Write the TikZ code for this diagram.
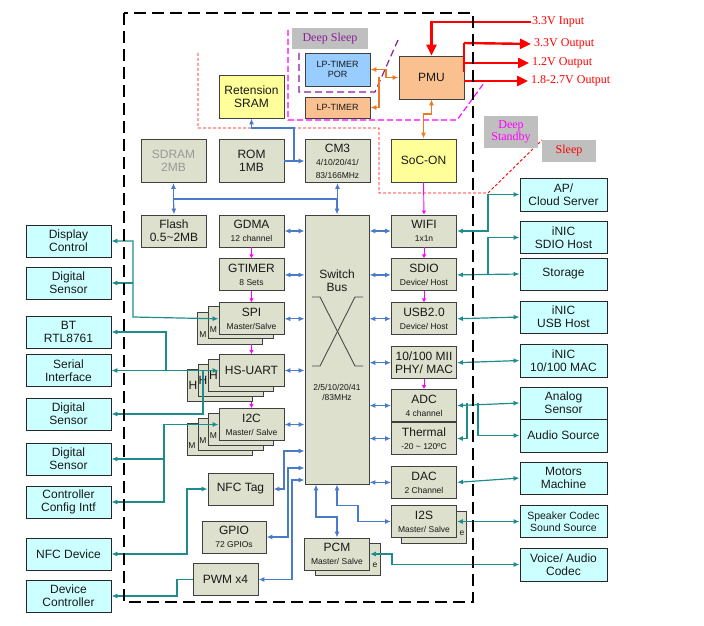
\documentclass[tikz,border=0pt]{standalone}
\usepackage{fontspec}
\setmainfont{Liberation Sans}
\newfontfamily\tnr{Liberation Serif}
\usetikzlibrary{positioning,arrows.meta,calc}
\definecolor{socG}{HTML}{DCE0CC}
\definecolor{socC}{HTML}{CCFFFF}
\definecolor{socY}{HTML}{FFFF99}
\definecolor{socO}{HTML}{FAC08F}
\definecolor{socB}{HTML}{99CCFF}
\definecolor{lnT}{HTML}{1E8C8C}
\definecolor{lnB}{HTML}{4A7BC8}
\definecolor{lnM}{HTML}{FF00FF}
\definecolor{lnO}{HTML}{F07820}
\definecolor{lnP}{HTML}{8A1F9A}
\newcommand{\subtx}{\fontsize{8.5}{10}\selectfont}
\newcommand{\lptx}{\fontsize{9}{10.5}\selectfont}

\begin{document}
\begin{tikzpicture}[x=1pt,y=-1pt,>={Latex[length=6pt,width=5pt]},
  every node/.style={font=\fontsize{12}{13}\selectfont, align=center, text=black!90},
  blk/.style={rectangle, draw=black!75, line width=0.9pt, fill=socG,
              minimum width=65pt, minimum height=32pt, inner sep=1pt},
  ext/.style={rectangle, draw=black!85, line width=0.9pt, fill=socC,
              minimum width=87pt, minimum height=32pt, inner sep=1pt},
  pwr/.style={blk, minimum height=43pt},
  peek/.style={inner sep=0pt},
  lbl/.style={fill=black!25, inner sep=0pt, font=\tnr\fontsize{12}{12.5}\selectfont},
  vlbl/.style={anchor=west, inner sep=1pt, text=red, font=\tnr\fontsize{12}{14}\selectfont},
  bl/.style={lnB, line width=1.2pt},
  tl/.style={lnT, line width=1.2pt},
  mg/.style={lnM, line width=0.9pt, -{Latex[length=4pt,width=4.5pt]}},
  og/.style={lnO, line width=1.2pt},
  rd/.style={red, line width=2.4pt},
  rdarr/.style={rd, -{Triangle[length=11pt,width=10pt]}}
]
\useasboundingbox (0,0) rectangle (704,626);

% power domains
\draw[red, line width=0.9pt, dash pattern=on 3pt off 2pt]
  (198,53) -- (198,128) -- (379,128) -- (379,193) -- (488,193) -- (542,140);
\draw[lnM, line width=1.1pt, dash pattern=on 6pt off 3pt]
  (288,30) -- (288,120) -- (457,120) -- (484,83);
\draw[lnP, line width=1.2pt, dash pattern=on 7pt off 4pt]
  (299,53) -- (299,92) -- (375,92) -- (398,40);
\node[lbl, text=lnP, minimum width=76pt, minimum height=21pt] (dslp) at (330,38.5) {Deep Sleep};
\node[lbl, text=lnM, minimum width=54pt, minimum height=32pt] (dstb) at (511,132) {Deep\\Standby};
\node[lbl, text=red, minimum width=54pt, minimum height=22pt] (slp) at (569,151) {Sleep};

% always-on part
\node[pwr, fill=socY] (sram) at (251.5,96.5) {Retension\\SRAM};
\node[blk, fill=socB, minimum height=33pt, font=\lptx] (por) at (337.5,69.5) {LP-TIMER\\POR};
\node[blk, fill=socO, minimum height=21pt, font=\lptx] (lpt) at (337.5,107.5) {LP-TIMER};
\node[pwr, fill=socO] (pmu) at (431.5,77.5) {PMU};
\node[pwr, fill=socY] (soc) at (423.5,160.5) {SoC-ON};
\node[pwr, text=black!40] (sdram) at (173.5,161) {SDRAM\\2MB};
\node[pwr] (rom) at (251.5,161) {ROM\\1MB};
\node[pwr] (cm3) at (337.5,161) {CM3\\{\subtx 4/10/20/41/}\\{\subtx 83/166MHz}};

% supply
\node[vlbl] (vin) at (531,22) {3.3V Input};
\node[vlbl] (vo1) at (533,44) {3.3V Output};
\node[vlbl] (vo2) at (531,63) {1.2V Output};
\node[vlbl] (vo3) at (530,81) {1.8-2.7V Output};
\draw[rdarr] (vin.west) -| (pmu.north);
\draw[rd] (464,43) -- (464,72);
\draw[rdarr, shorten >=2pt] (464,43) -- (vo1.west);
\draw[rdarr, shorten >=2pt] (464,63) -- (vo2.west);
\draw[rdarr, shorten >=2pt] (pmu.east |- vo3.west) -- (vo3.west);
\draw[og, <->] (por.east) -- (386,69.5) -- (386,77.5) -- (pmu.west);
\draw[og, ->] (379,77.5) -- (379,107.5) -- (lpt.east);
\draw[og, <->] (pmu.south) -- (431.5,114) -- (423.5,114) -- (soc.north);

% left column
\node[blk] (flash) at (174,231) {Flash\\0.5\textasciitilde 2MB};
\node[blk] (gdma) at (251.5,231) {GDMA\\{\subtx 12 channel}};
\node[blk, below=11pt of gdma] (gtim) {GTIMER\\{\subtx 8 Sets}};
\node[blk] (spib2) at (229.5,328) {};
\node[peek, font=\subtx] at (203,335) {M};
\node[blk] (spib1) at (240.5,322.5) {};
\node[peek, font=\subtx] at (213.5,329.5) {M};
\node[blk, below=11pt of gtim] (spi) {SPI\\{\subtx Master/Salve}};
\node[blk] (uartb3) at (220,385.5) {};
\node[peek] at (193,385.5) {H};
\node[blk] (uartb2) at (230.5,380.5) {};
\node[peek] at (203,380.5) {H};
\node[blk] (uartb1) at (241,375.5) {};
\node[peek] at (213.5,375.5) {H};
\node[blk] (uart) at (251.5,370.5) {HS-UART};
\node[blk] (i2cb3) at (220,439.5) {};
\node[peek, font=\subtx] at (192,446) {M};
\node[blk] (i2cb2) at (230.5,434.5) {};
\node[peek, font=\subtx] at (203,441) {M};
\node[blk] (i2cb1) at (241,429.5) {};
\node[peek, font=\subtx] at (213.5,436) {M};
\node[blk] (i2c) at (251.5,424.5) {I2C\\{\subtx Master/ Salve}};
\node[blk] (nfct) at (240.5,489) {NFC Tag};
\node[blk, minimum width=64pt] (gpio) at (234,537) {GPIO\\{\subtx 72 GPIOs}};
\node[blk] (pwm) at (225.5,579.5) {PWM x4};

% switch bus
\node[blk, minimum width=64pt, minimum height=269pt] (sw) at (337,349.5) {};
\node (swname) at (337,281) {Switch\\Bus};
\node[font=\subtx] (swclk) at (337,392) {2/5/10/20/41\\/83MHz};
\draw[black!70, line width=0.9pt] (312,297) -- (320,297) -- (355,366) -- (363,366);
\draw[black!70, line width=0.9pt] (363,297) -- (355,297) -- (320,366) -- (312,366);

% right column
\node[blk] (wifi) at (424,231) {WIFI\\{\subtx 1x1n}};
\node[blk, below=11pt of wifi] (sdio) {SDIO\\{\subtx Device/ Host}};
\node[blk, below=11pt of sdio] (usb) {USB2.0\\{\subtx Device/ Host}};
\node[blk, below=11pt of usb] (mii) {10/100 MII\\PHY/ MAC};
\node[blk, below=10pt of mii] (adc) {ADC\\{\subtx 4 channel}};
\node[blk, below=0pt of adc] (therm) {Thermal\\{\subtx -20 \textasciitilde{} 120ºC}};
\node[blk, below=11pt of therm] (dac) {DAC\\{\subtx 2 Channel}};
\node[blk] (i2sb) at (434,527) {};
\node[peek, font=\subtx] at (462,533) {e};
\node[blk] (i2s) at (424,521.5) {I2S\\{\subtx Master/ Salve}};
\node[blk] (pcmb) at (348,559) {};
\node[peek, font=\subtx] at (375,565) {e};
\node[blk] (pcm) at (337,554) {PCM\\{\subtx Master/ Salve}};

% external devices
\node[ext, minimum width=85pt] (disp) at (68.5,241) {Display\\Control};
\node[ext, minimum width=85pt] (dsen1) at (68.5,283) {Digital\\Sensor};
\node[ext, minimum width=85pt] (bt) at (68.5,332) {BT\\RTL8761};
\node[ext, minimum width=85pt] (ser) at (68.5,370.5) {Serial\\Interface};
\node[ext, minimum width=85pt] (dsen2) at (68.5,414) {Digital\\Sensor};
\node[ext, minimum width=85pt] (dsen3) at (68.5,459) {Digital\\Sensor};
\node[ext, minimum width=85pt] (cfg) at (68.5,502) {Controller\\Config Intf};
\node[ext, minimum width=85pt] (nfcd) at (68.5,554) {NFC Device};
\node[ext, minimum width=85pt] (devc) at (68.5,596) {Device\\Controller};
\node[ext, minimum height=33pt] (ap) at (563.5,194.5) {AP/\\Cloud Server};
\node[ext] (sdioh) at (563.5,237.5) {iNIC\\SDIO Host};
\node[ext] (stor) at (563.5,274) {Storage};
\node[ext] (usbh) at (563.5,317) {iNIC\\USB Host};
\node[ext, minimum height=33pt] (mac) at (563.5,360.5) {iNIC\\10/100 MAC};
\node[ext] (asen) at (563.5,403) {Analog\\Sensor};
\node[ext, minimum height=33pt] (asrc) at (563.5,435.5) {Audio Source};
\node[ext] (mot) at (563.5,478) {Motors\\Machine};
\node[ext, font=\fontsize{10.5}{12}\selectfont] (spk) at (563.5,521.5) {Speaker Codec\\Sound Source};
\node[ext, minimum height=33pt] (voice) at (563.5,564.5) {Voice/ Audio\\Codec};

% memory bus
\coordinate (busl) at (173.5,199);
\coordinate (busr) at (337,199);
\draw[bl] (busl) -- (busr);
\draw[bl, ->] (busl) -- (sdram.south);
\draw[bl, ->] (busl) -- (flash.north);
\draw[bl, ->] (busr) -- (cm3.south |- busr) -- (cm3.south);
\draw[bl, ->] (busr) -- (sw.north);
\draw[bl, ->] (rom.east) -- (cm3.west);
\draw[bl, ->] (294,161) -- (294,128) -| (sram.south);

% switch bus links
\foreach \n in {gdma,gtim,spi,uart,i2c}
  \draw[bl, <->] (\n.east) -- (\n.east -| sw.west);
\foreach \n in {wifi,sdio,usb,mii,adc,therm,dac}
  \draw[bl, <->] (\n.west -| sw.east) -- (\n.west);
\coordinate (nfcj) at (284,451);
\coordinate (gpioj) at (288,468);
\coordinate (pwmj) at (292,480);
\draw[bl, <->] (nfct.east) -| (nfcj) -- (nfcj -| sw.west);
\draw[bl, <->] (gpio.east) -| (gpioj) -- (gpioj -| sw.west);
\draw[bl, <->] (pwm.east) -| (pwmj) -- (pwmj -| sw.west);
\draw[bl, <->] ($(sw.south)+(-21,0)$) |- (337,517) -- (pcm.north);
\draw[bl, <->] (sw.south) |- (358,505.5) |- (i2s.west);

% control chain
\draw[mg] (soc.south) -- (wifi.north);
\draw[mg] (wifi.south) -- (sdio.north);
\draw[mg] (sdio.south) -- (usb.north);
\draw[mg] (mii.south) -- (adc.north);
\draw[mg] (gdma.south) -- (gtim.north);
\draw[mg] (gtim.south) -- (spi.north);
\draw[mg] (spi.south |- spib2.south) -- (uart.north);
\draw[mg] (uart.south |- uartb3.south) -- (i2c.north);

% peripherals, left
\draw[tl, <->] (disp.east) -| (133,317) -- (spi.west);
\draw[tl, ->] (133,283) -- (dsen1.east);
\draw[tl, <->] (bt.east) -| (166,370.5) -- (uart.west);
\draw[tl, ->] (166,370.5) -- (ser.east);
\draw[tl, ->] (203,370.5) |- (dsen2.east);
\draw[tl, <->] (dsen3.east) -| (164,424.5) -- (i2c.west);
\draw[tl, ->] (164,459) |- (cfg.east);
\draw[tl, <->] (nfcd.east) -| (187,489) -- (nfct.west);
\draw[tl, <-] (devc.east) -| (177,579.5) -- (pwm.west);

% peripherals, right
\draw[tl, <->] (wifi.east) -- (488,231) |- (ap.west);
\draw[tl, <->] (sdio.east) -- (stor.west);
\draw[tl, ->] (488,274) |- (sdioh.west);
\draw[tl, <->] (usb.east) -- (usbh.west);
\draw[tl, <->] (mii.east) -- (mac.west);
\draw[tl, <->] (adc.east) -- (asen.west);
\draw[tl, ->] (478,403) |- (asrc.west);
\draw[tl, ->] (467,403) |- (therm.east);
\draw[tl, <->] (dac.east) -- (mot.west);
\draw[tl, <->] (i2s.east) -- (spk.west);
\draw[tl, <->] (pcm.east) -- (392,554) |- (voice.west);

% chip outline
\draw[black, line width=2.2pt, dash pattern=on 12pt off 6pt] (124,13) rectangle (473,602);
\end{tikzpicture}
\end{document}
